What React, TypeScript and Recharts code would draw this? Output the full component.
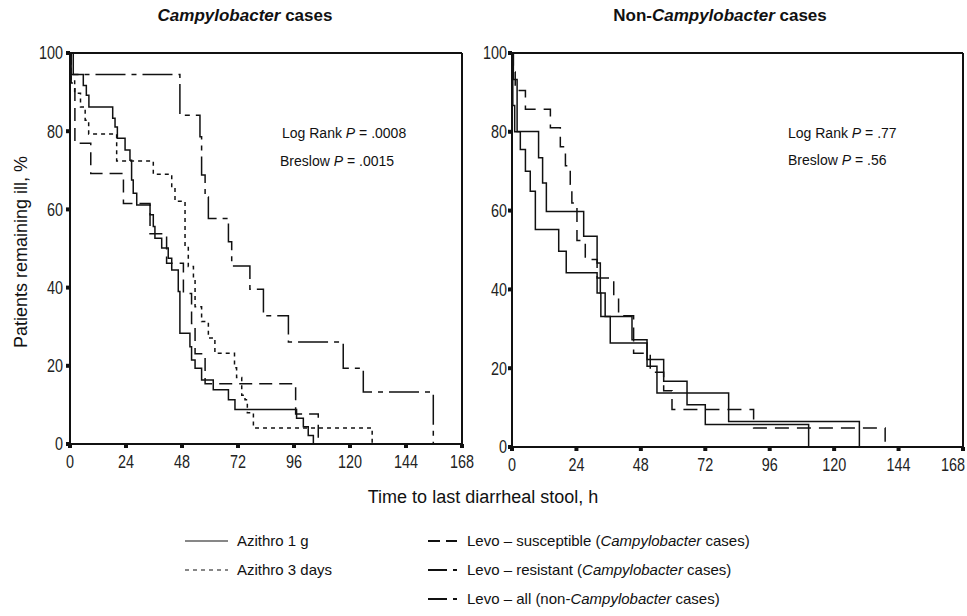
import { LineChart, Line, XAxis, YAxis, ReferenceLine } from 'recharts'

const hourTicks = [0, 24, 48, 72, 96, 120, 144, 168]
const pctTicks = [0, 20, 40, 60, 80, 100]

// Kaplan-Meier steps: [hour, % still ill]
const azithro1gCampy = [
  [0, 100], [0.5, 94.5], [5.7, 91.7], [7, 89.2], [8.1, 86.2], [18.3, 83.3], [19.3, 81.1],
  [20.3, 78.2], [23.6, 75.2], [25.7, 72.6], [26.4, 67.5], [27.1, 64.1], [28.6, 61.1],
  [34.3, 58.6], [35.7, 55.6], [36.4, 52.6], [39.3, 50.1], [42.1, 47.5], [43.6, 44.5],
  [46.4, 39], [47.1, 28.3], [51.4, 24.9], [52.1, 21.5], [53.6, 19.4], [56.4, 16.4],
  [61.4, 13.9], [67.9, 11.3], [70.7, 8.8], [97.1, 6.6], [100, 4.4], [102.1, 2.2], [104.3, 0],
]
const azithro3dCampy = [
  [0, 100], [0.5, 93.1], [2, 89.7], [4.5, 86.2], [6.5, 82.8], [8, 79.3], [20, 72.4],
  [35.7, 69], [43.6, 65.5], [45, 62.1], [49.3, 50.5], [50.7, 45.4], [52.9, 42], [53.6, 35.1],
  [56.4, 31.3], [59.3, 27.1], [62.1, 23.2], [70.5, 19.5], [71.4, 17], [73.6, 12.5],
  [75, 11.3], [76, 8], [78.6, 4.1], [129.5, 0],
]
const levoSusCampy = [
  [0, 100], [0.5, 92.3], [2.1, 76.9], [8.9, 69.2], [22.9, 61.5], [34.3, 53.8], [41.4, 46.2],
  [48.6, 38.5], [52.1, 30.8], [53.6, 23.1], [57.9, 15.4], [96.7, 7.7], [106.4, 0],
]
const levoResCampy = [
  [0, 100], [1.4, 94.5], [47.1, 84.1], [55.7, 78.6], [56.4, 68.8], [57.9, 63.2], [59.3, 57.7],
  [67.9, 51.7], [69.3, 45.5], [77.1, 39.6], [82.9, 32.8], [93.6, 26.1], [117.1, 19.4],
  [125.7, 13.3], [155.7, 0],
]

const levoAllNonCampy = [
  [0, 100], [0.5, 95.2], [1.2, 90.5], [5, 85.7], [14.3, 81], [18, 76.2], [19.9, 71.4],
  [21.7, 66.7], [22.3, 61.9], [24.2, 52.4], [27.3, 47.6], [31.7, 42.9], [37.9, 38.1],
  [39.7, 33.3], [45.3, 23.8], [51.5, 19], [56.5, 14.3], [59.6, 9.5], [90, 4.8], [139, 0],
]
const azithro1gNonCampy = [
  [0, 100], [0.3, 86.7], [1, 80], [3.1, 75.5], [5, 70], [6.8, 64.9], [8.7, 55.2],
  [17.4, 49.7], [20.2, 44.2], [31.7, 39.1], [33.1, 33.1], [36.6, 26.4], [50.3, 20.5],
  [54, 13.7], [80.7, 6.5], [129.4, 0],
]
const azithro3dNonCampy = [
  [0, 100], [0.5, 93.3], [1.9, 80.1], [9.9, 73.4], [11.4, 67], [12.8, 59.8], [26.7, 53.5],
  [31.7, 46.7], [32.9, 39.1], [34.7, 33.1], [44.7, 27.2], [50.3, 22.2], [56.5, 16.7],
  [65.2, 10.7], [72, 5.7], [110.5, 0],
]

const toPts = (rows: number[][]) => rows.map(([t, p]) => ({ t, p }))

const INK = '#111'
const textFont = '"Liberation Sans", Arial, sans-serif'

type Series = { key: string; rows: number[][]; dash?: string; width?: number }

const leftSeries: Series[] = [
  { key: 'a1', rows: azithro1gCampy },
  { key: 'a3', rows: azithro3dCampy, dash: '4 4' },
  { key: 'ls', rows: levoSusCampy, dash: '13 7' },
  { key: 'lr', rows: levoResCampy, dash: '30 6 5 6' },
]
const rightSeries: Series[] = [
  { key: 'la', rows: levoAllNonCampy, dash: '14 8' },
  { key: 'a1', rows: azithro1gNonCampy },
  { key: 'a3', rows: azithro3dNonCampy },
]

// narrow-looking tick labels (the original uses a condensed face)
function NarrowTick(props: any) {
  const { x, y, payload, textAnchor, vertical, clipRight } = props
  let anchor = textAnchor
  let tx = x
  if (clipRight && payload.value === 168) {
    // last label sits against the image edge in the original
    anchor = 'end'
    tx = x + 2
  }
  return (
    <text
      transform={`translate(${tx},${y}) scale(0.8,1)`}
      textAnchor={anchor}
      dy={vertical ? '0.36em' : '0.72em'}
      fontSize={18}
      fontFamily={textFont}
      fill="#222"
    >
      {payload.value}
    </text>
  )
}

function Panel({ series, width, margin, yWidth, yTickMargin, clipRight }: {
  series: Series[]; width: number; margin: any; yWidth: number; yTickMargin: number; clipRight?: boolean
}) {
  return (
    <LineChart width={width} height={480} margin={margin}>
      <XAxis
        type="number" dataKey="t" domain={[0, 168]} ticks={hourTicks} interval={0}
        height={30} tickSize={4} tickMargin={7}
        axisLine={{ stroke: INK, strokeWidth: 2 }}
        tickLine={{ stroke: INK, strokeWidth: 4 }}
        tick={<NarrowTick clipRight={clipRight} />}
      />
      <YAxis
        type="number" dataKey="p" domain={[0, 100]} ticks={pctTicks} interval={0}
        width={yWidth} tickSize={4} tickMargin={yTickMargin}
        axisLine={{ stroke: INK, strokeWidth: 2 }}
        tickLine={{ stroke: INK, strokeWidth: 4 }}
        tick={<NarrowTick vertical />}
      />
      <ReferenceLine y={100} stroke={INK} strokeWidth={2} />
      <ReferenceLine x={168} stroke={INK} strokeWidth={2} />
      {series.map((s) => (
        <Line
          key={s.key}
          data={toPts(s.rows)}
          dataKey="p"
          type="stepAfter"
          stroke={INK}
          strokeWidth={s.width ?? 1.5}
          strokeDasharray={s.dash}
          dot={false}
          activeDot={false}
          isAnimationActive={false}
        />
      ))}
    </LineChart>
  )
}

const legendLeft = [
  { label: [['Azithro 1 g', false]], dash: undefined, y: 541 },
  { label: [['Azithro 3 days', false]], dash: '4 4', y: 570 },
]
const legendRight = [
  { label: [['Levo – susceptible (', false], ['Campylobacter', true], [' cases)', false]], dash: '12 6', y: 541 },
  { label: [['Levo – resistant (', false], ['Campylobacter', true], [' cases)', false]], dash: '19 6 4 10', y: 570 },
  { label: [['Levo – all (non-', false], ['Campylobacter', true], [' cases)', false]], dash: '19 6 4 10', y: 599 },
]

function LegendText({ x, y, parts }: { x: number; y: number; parts: any[] }) {
  return (
    <text x={x} y={y + 5} fontSize={15} fontFamily={textFont} fill="#111">
      {parts.map(([t, it]: [string, boolean], i: number) => (
        <tspan key={i} fontStyle={it ? 'italic' : 'normal'}>{t}</tspan>
      ))}
    </text>
  )
}

export default function App() {
  return (
    <div style={{ position: 'absolute', left: 0, top: 0, width: 967, height: 616, background: '#fff', overflow: 'hidden' }}>
      <div style={{ position: 'absolute', left: 0, top: 0 }}>
        <Panel series={leftSeries} width={480} margin={{ top: 53, right: 18, bottom: 6, left: 10 }} yWidth={60} yTickMargin={3} />
      </div>
      <div style={{ position: 'absolute', left: 470, top: 0 }}>
        <Panel series={rightSeries} width={497} margin={{ top: 53, right: 4, bottom: 3, left: 2 }} yWidth={40} yTickMargin={1} clipRight />
      </div>
      <svg width={967} height={616} style={{ position: 'absolute', left: 0, top: 0, pointerEvents: 'none' }}>
        <text x={245} y={21} textAnchor="middle" fontSize={17} fontWeight="bold" fontFamily={textFont} fill="#111">
          <tspan fontStyle="italic">Campylobacter</tspan> cases
        </text>
        <text x={720} y={21} textAnchor="middle" fontSize={17} fontWeight="bold" fontFamily={textFont} fill="#111">
          Non-<tspan fontStyle="italic">Campylobacter</tspan> cases
        </text>

        <text x={282} y={138} fontSize={14} fontFamily={textFont} fill="#111">
          Log Rank <tspan fontStyle="italic">P</tspan> = .0008
        </text>
        <text x={280} y={166} fontSize={14} fontFamily={textFont} fill="#111">
          Breslow <tspan fontStyle="italic">P</tspan> = .0015
        </text>
        <text x={788} y={138} fontSize={14} fontFamily={textFont} fill="#111">
          Log Rank <tspan fontStyle="italic">P</tspan> = .77
        </text>
        <text x={788} y={165} fontSize={14} fontFamily={textFont} fill="#111">
          Breslow <tspan fontStyle="italic">P</tspan> = .56
        </text>

        <text transform="translate(27,252) rotate(-90)" textAnchor="middle" fontSize={18} fontFamily={textFont} fill="#111">
          Patients remaining ill, %
        </text>
        <text x={483} y={503} textAnchor="middle" fontSize={18} fontFamily={textFont} fill="#111">
          Time to last diarrheal stool, h
        </text>

        {legendLeft.map((l, i) => (
          <g key={'l' + i}>
            <line x1={185} x2={228} y1={l.y} y2={l.y} stroke="#111" strokeWidth={1.2} strokeDasharray={l.dash} />
            <LegendText x={237} y={l.y} parts={l.label} />
          </g>
        ))}
        {legendRight.map((l, i) => (
          <g key={'r' + i}>
            <line x1={428} x2={457} y1={l.y} y2={l.y} stroke="#111" strokeWidth={1.8} strokeDasharray={l.dash} />
            <LegendText x={467} y={l.y} parts={l.label} />
          </g>
        ))}
      </svg>
    </div>
  )
}
